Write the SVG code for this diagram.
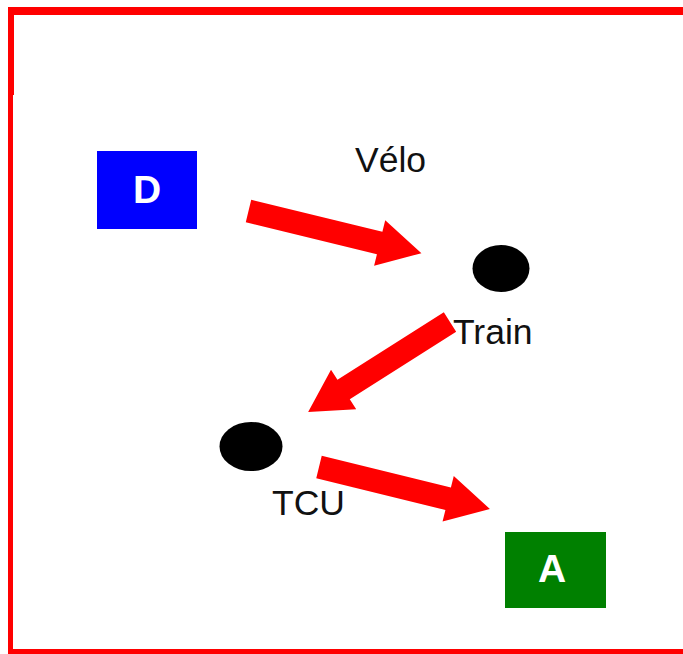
<svg xmlns="http://www.w3.org/2000/svg" width="683" height="654" viewBox="0 0 683 654">
  <style>
    .frame { fill: #ff0000; }
    .arrow { fill: #ff0000; }
    .box-label { font-family: "Liberation Sans", Arial, sans-serif; font-size: 39px; font-weight: bold; fill: #ffffff; text-anchor: middle; }
    .label { font-family: "Liberation Sans", Arial, sans-serif; font-size: 35.5px; fill: #111111; }
    .stop { fill: #000000; }
  </style>
  <rect width="683" height="654" fill="#ffffff"/>
  <g id="frame">
    <rect class="frame" x="8" y="7" width="675" height="8"/>
    <rect class="frame" x="8" y="7" width="6" height="88"/>
    <rect class="frame" x="8" y="95" width="5" height="559"/>
    <rect class="frame" x="8" y="649" width="675" height="5"/>
  </g>
  <g id="connectors">
    <path class="arrow" transform="translate(248.5,211) rotate(13.7)" d="M0,-11.5 L135,-11.5 L135,-23.5 L178,0 L135,23.5 L135,11.5 L0,11.5 Z"/>
    <path class="arrow" transform="translate(450,322) rotate(147.6)" d="M0,-11.5 L126,-11.5 L126,-23.5 L168,0 L126,23.5 L126,11.5 L0,11.5 Z"/>
    <path class="arrow" transform="translate(319,467) rotate(13.8)" d="M0,-11.5 L133,-11.5 L133,-23.5 L176,0 L133,23.5 L133,11.5 L0,11.5 Z"/>
  </g>
  <g id="node-D">
    <rect x="97" y="151" width="100" height="78" fill="#0000ff"/>
    <text class="box-label" x="147" y="203">D</text>
  </g>
  <g id="node-velo">
    <text class="label" x="355" y="172">Vélo</text>
  </g>
  <g id="node-train">
    <ellipse class="stop" cx="501" cy="268.5" rx="28.5" ry="23.5"/>
    <text class="label" x="453" y="344">Train</text>
  </g>
  <g id="node-tcu">
    <ellipse class="stop" cx="251" cy="446.5" rx="31.5" ry="24.5"/>
    <text class="label" x="272" y="515">TCU</text>
  </g>
  <g id="node-A">
    <rect x="505" y="532" width="101" height="76" fill="#008000"/>
    <text class="box-label" x="552" y="582">A</text>
  </g>
</svg>
